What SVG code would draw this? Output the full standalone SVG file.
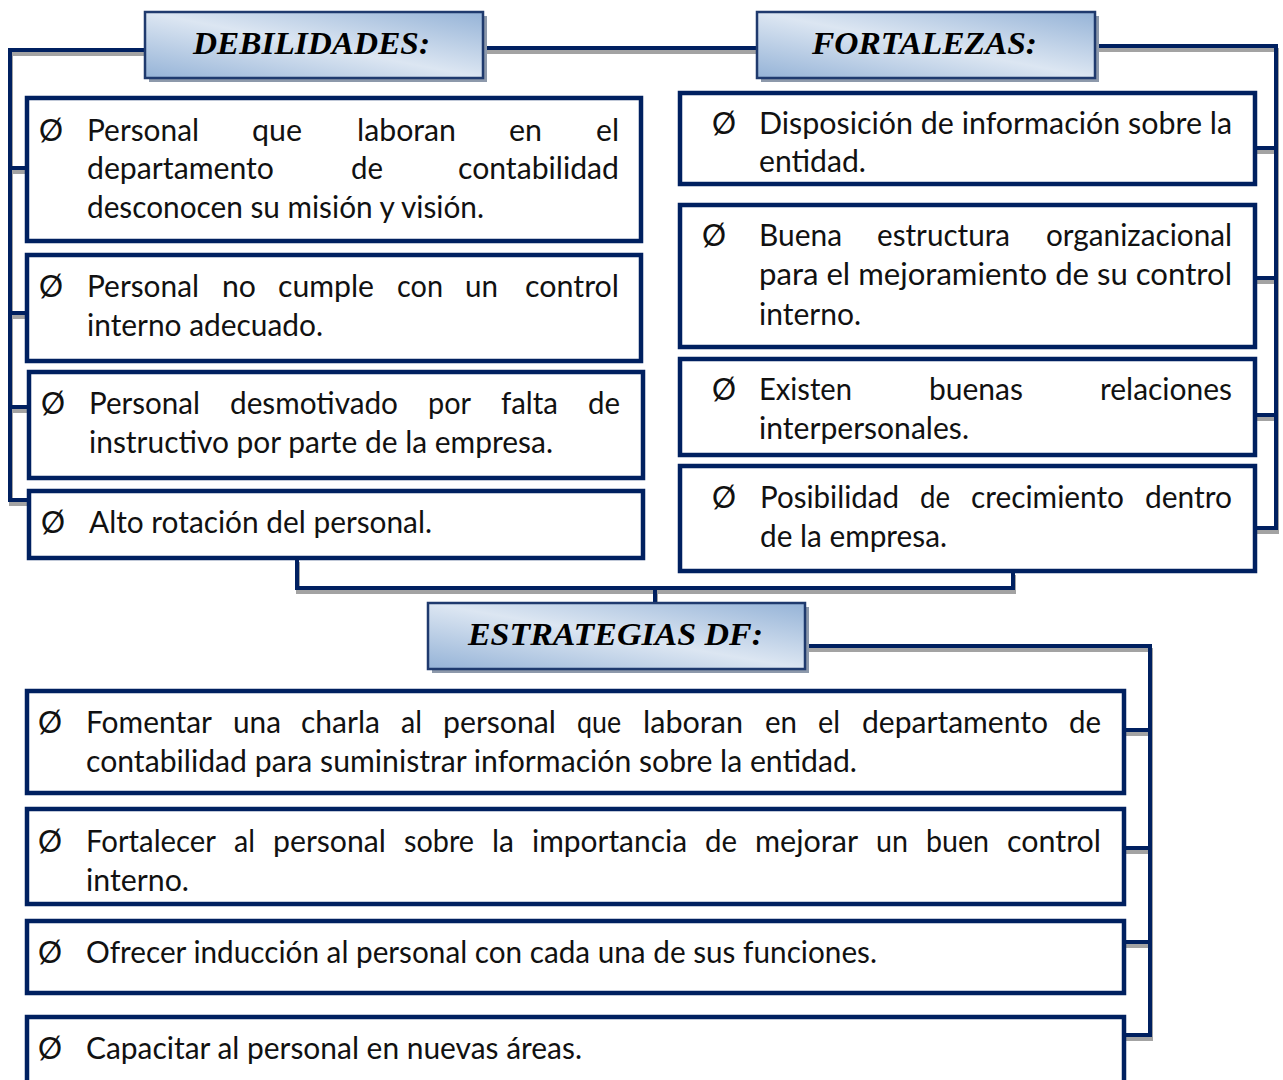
<svg xmlns="http://www.w3.org/2000/svg" width="1283" height="1080" viewBox="0 0 1283 1080">
<defs>
<linearGradient id="hg" x1="0" y1="1" x2="1" y2="0">
<stop offset="0" stop-color="#95b3d7"/>
<stop offset="0.5" stop-color="#dce6f2"/>
<stop offset="1" stop-color="#95b3d7"/>
</linearGradient>
<style>
.sh{fill:none;stroke:#a3a3a3;stroke-width:4;stroke-linejoin:miter}
.ln{fill:none;stroke:#002060;stroke-width:4;stroke-linejoin:miter}
.box{fill:#fff;stroke:#002060;stroke-width:4.5}
.hdr{fill:url(#hg);stroke:#1f3a6e;stroke-width:2.5}
.hsh{fill:#8d99ab}
.ht{font-family:"Liberation Serif",serif;font-weight:bold;font-style:italic;font-size:32px;fill:#000}
.t{font-family:Lato,"Liberation Sans",sans-serif;font-size:30px;fill:#111}
</style>
</defs>
<rect width="1283" height="1080" fill="#fff"/>

<g id="connectors">
<g class="sh" transform="translate(1,4)">
<path d="M145,50 H10 V500 H29 M10,168 H27 M10,313 H27 M10,407 H29"/>
<path d="M483,48 H757"/>
<path d="M1095,46 H1276 V528 H1255 M1255,148 H1276 M1255,278 H1276 M1255,415 H1276"/>
<path d="M297,558 V588 H1013 V571 M655,588 V603"/>
<path d="M805,646 H1150 V1035 H1124 M1124,730 H1150 M1124,848 H1150 M1124,942 H1150"/>
</g>
<g class="ln">
<path d="M145,50 H10 V500 H29 M10,168 H27 M10,313 H27 M10,407 H29"/>
<path d="M483,48 H757"/>
<path d="M1095,46 H1276 V528 H1255 M1255,148 H1276 M1255,278 H1276 M1255,415 H1276"/>
<path d="M297,558 V588 H1013 V571 M655,588 V603"/>
<path d="M805,646 H1150 V1035 H1124 M1124,730 H1150 M1124,848 H1150 M1124,942 H1150"/>
</g>
</g>

<g id="hdr-debilidades">
<rect class="hsh" x="149" y="16" width="338" height="66"/>
<rect class="hdr" x="145" y="12" width="338" height="66"/>
<text class="ht" x="193" y="54" textLength="237" lengthAdjust="spacingAndGlyphs">DEBILIDADES:</text>
</g>
<g id="hdr-fortalezas">
<rect class="hsh" x="761" y="16" width="338" height="66"/>
<rect class="hdr" x="757" y="12" width="338" height="66"/>
<text class="ht" x="812" y="54" textLength="225" lengthAdjust="spacingAndGlyphs">FORTALEZAS:</text>
</g>
<g id="hdr-estrategias">
<rect class="hsh" x="432" y="607" width="377" height="66"/>
<rect class="hdr" x="428" y="603" width="377" height="66"/>
<text class="ht" x="468" y="645" textLength="295" lengthAdjust="spacingAndGlyphs">ESTRATEGIAS DF:</text>
</g>

<g id="deb-1">
<rect class="box" x="27" y="98" width="614" height="143"/>
<text class="t" x="39" y="141">Ø</text>
<text class="t" x="87" y="141" textLength="112" lengthAdjust="spacingAndGlyphs">Personal</text>
<text class="t" x="252" y="141" textLength="50" lengthAdjust="spacingAndGlyphs">que</text>
<text class="t" x="357" y="141" textLength="99" lengthAdjust="spacingAndGlyphs">laboran</text>
<text class="t" x="509" y="141" textLength="33" lengthAdjust="spacingAndGlyphs">en</text>
<text class="t" x="596" y="141" textLength="23" lengthAdjust="spacingAndGlyphs">el</text>
<text class="t" x="87" y="179" textLength="187" lengthAdjust="spacingAndGlyphs">departamento</text>
<text class="t" x="351" y="179" textLength="32" lengthAdjust="spacingAndGlyphs">de</text>
<text class="t" x="458" y="179" textLength="161" lengthAdjust="spacingAndGlyphs">contabilidad</text>
<text class="t" x="87" y="218" textLength="397" lengthAdjust="spacingAndGlyphs">desconocen su misión y visión.</text>
</g>
<g id="deb-2">
<rect class="box" x="27" y="255" width="614" height="106"/>
<text class="t" x="39" y="297">Ø</text>
<text class="t" x="87" y="297" textLength="112" lengthAdjust="spacingAndGlyphs">Personal</text>
<text class="t" x="222" y="297" textLength="34" lengthAdjust="spacingAndGlyphs">no</text>
<text class="t" x="278" y="297" textLength="96" lengthAdjust="spacingAndGlyphs">cumple</text>
<text class="t" x="397" y="297" textLength="46" lengthAdjust="spacingAndGlyphs">con</text>
<text class="t" x="465" y="297" textLength="33" lengthAdjust="spacingAndGlyphs">un</text>
<text class="t" x="525" y="297" textLength="94" lengthAdjust="spacingAndGlyphs">control</text>
<text class="t" x="87" y="336" textLength="236" lengthAdjust="spacingAndGlyphs">interno adecuado.</text>
</g>
<g id="deb-3">
<rect class="box" x="29" y="372" width="614" height="106"/>
<text class="t" x="41" y="414">Ø</text>
<text class="t" x="89" y="414" textLength="111" lengthAdjust="spacingAndGlyphs">Personal</text>
<text class="t" x="230" y="414" textLength="168" lengthAdjust="spacingAndGlyphs">desmotivado</text>
<text class="t" x="428" y="414" textLength="43" lengthAdjust="spacingAndGlyphs">por</text>
<text class="t" x="501" y="414" textLength="57" lengthAdjust="spacingAndGlyphs">falta</text>
<text class="t" x="588" y="414" textLength="32" lengthAdjust="spacingAndGlyphs">de</text>
<text class="t" x="89" y="453" textLength="464" lengthAdjust="spacingAndGlyphs">instructivo por parte de la empresa.</text>
</g>
<g id="deb-4">
<rect class="box" x="29" y="491" width="614" height="67"/>
<text class="t" x="41" y="533">Ø</text>
<text class="t" x="89" y="533" textLength="343" lengthAdjust="spacingAndGlyphs">Alto rotación del personal.</text>
</g>

<g id="for-1">
<rect class="box" x="680" y="93" width="575" height="91"/>
<text class="t" x="712" y="134">Ø</text>
<text class="t" x="759" y="134" textLength="473" lengthAdjust="spacingAndGlyphs">Disposición de información sobre la</text>
<text class="t" x="759" y="172" textLength="107" lengthAdjust="spacingAndGlyphs">entidad.</text>
</g>
<g id="for-2">
<rect class="box" x="680" y="205" width="575" height="142"/>
<text class="t" x="702" y="246">Ø</text>
<text class="t" x="759" y="246" textLength="83" lengthAdjust="spacingAndGlyphs">Buena</text>
<text class="t" x="877" y="246" textLength="133" lengthAdjust="spacingAndGlyphs">estructura</text>
<text class="t" x="1046" y="246" textLength="186" lengthAdjust="spacingAndGlyphs">organizacional</text>
<text class="t" x="759" y="285" textLength="473" lengthAdjust="spacingAndGlyphs">para el mejoramiento de su control</text>
<text class="t" x="759" y="325" textLength="102" lengthAdjust="spacingAndGlyphs">interno.</text>
</g>
<g id="for-3">
<rect class="box" x="680" y="359" width="575" height="96"/>
<text class="t" x="712" y="400">Ø</text>
<text class="t" x="759" y="400" textLength="93" lengthAdjust="spacingAndGlyphs">Existen</text>
<text class="t" x="929" y="400" textLength="94" lengthAdjust="spacingAndGlyphs">buenas</text>
<text class="t" x="1100" y="400" textLength="132" lengthAdjust="spacingAndGlyphs">relaciones</text>
<text class="t" x="759" y="439" textLength="210" lengthAdjust="spacingAndGlyphs">interpersonales.</text>
</g>
<g id="for-4">
<rect class="box" x="680" y="466" width="575" height="105"/>
<text class="t" x="712" y="508">Ø</text>
<text class="t" x="760" y="508" textLength="139" lengthAdjust="spacingAndGlyphs">Posibilidad</text>
<text class="t" x="920" y="508" textLength="30" lengthAdjust="spacingAndGlyphs">de</text>
<text class="t" x="971" y="508" textLength="153" lengthAdjust="spacingAndGlyphs">crecimiento</text>
<text class="t" x="1145" y="508" textLength="87" lengthAdjust="spacingAndGlyphs">dentro</text>
<text class="t" x="760" y="547" textLength="187" lengthAdjust="spacingAndGlyphs">de la empresa.</text>
</g>

<g id="est-1">
<rect class="box" x="27" y="691" width="1097" height="102"/>
<text class="t" x="38" y="733">Ø</text>
<text class="t" x="86" y="733" textLength="126" lengthAdjust="spacingAndGlyphs">Fomentar</text>
<text class="t" x="233" y="733" textLength="48" lengthAdjust="spacingAndGlyphs">una</text>
<text class="t" x="301" y="733" textLength="79" lengthAdjust="spacingAndGlyphs">charla</text>
<text class="t" x="401" y="733" textLength="21" lengthAdjust="spacingAndGlyphs">al</text>
<text class="t" x="443" y="733" textLength="113" lengthAdjust="spacingAndGlyphs">personal</text>
<text class="t" x="577" y="733" textLength="44" lengthAdjust="spacingAndGlyphs">que</text>
<text class="t" x="643" y="733" textLength="100" lengthAdjust="spacingAndGlyphs">laboran</text>
<text class="t" x="765" y="733" textLength="32" lengthAdjust="spacingAndGlyphs">en</text>
<text class="t" x="818" y="733" textLength="22" lengthAdjust="spacingAndGlyphs">el</text>
<text class="t" x="862" y="733" textLength="186" lengthAdjust="spacingAndGlyphs">departamento</text>
<text class="t" x="1069" y="733" textLength="32" lengthAdjust="spacingAndGlyphs">de</text>
<text class="t" x="86" y="772" textLength="771" lengthAdjust="spacingAndGlyphs">contabilidad para suministrar información sobre la entidad.</text>
</g>
<g id="est-2">
<rect class="box" x="27" y="809" width="1097" height="95"/>
<text class="t" x="38" y="852">Ø</text>
<text class="t" x="86" y="852" textLength="130" lengthAdjust="spacingAndGlyphs">Fortalecer</text>
<text class="t" x="234" y="852" textLength="21" lengthAdjust="spacingAndGlyphs">al</text>
<text class="t" x="273" y="852" textLength="113" lengthAdjust="spacingAndGlyphs">personal</text>
<text class="t" x="404" y="852" textLength="70" lengthAdjust="spacingAndGlyphs">sobre</text>
<text class="t" x="492" y="852" textLength="22" lengthAdjust="spacingAndGlyphs">la</text>
<text class="t" x="532" y="852" textLength="155" lengthAdjust="spacingAndGlyphs">importancia</text>
<text class="t" x="705" y="852" textLength="32" lengthAdjust="spacingAndGlyphs">de</text>
<text class="t" x="755" y="852" textLength="103" lengthAdjust="spacingAndGlyphs">mejorar</text>
<text class="t" x="876" y="852" textLength="32" lengthAdjust="spacingAndGlyphs">un</text>
<text class="t" x="926" y="852" textLength="63" lengthAdjust="spacingAndGlyphs">buen</text>
<text class="t" x="1007" y="852" textLength="94" lengthAdjust="spacingAndGlyphs">control</text>
<text class="t" x="86" y="891" textLength="103" lengthAdjust="spacingAndGlyphs">interno.</text>
</g>
<g id="est-3">
<rect class="box" x="27" y="921" width="1097" height="72"/>
<text class="t" x="38" y="963">Ø</text>
<text class="t" x="86" y="963" textLength="791" lengthAdjust="spacingAndGlyphs">Ofrecer inducción al personal con cada una de sus funciones.</text>
</g>
<g id="est-4">
<rect class="box" x="27" y="1017" width="1097" height="80"/>
<text class="t" x="38" y="1059">Ø</text>
<text class="t" x="86" y="1059" textLength="496" lengthAdjust="spacingAndGlyphs">Capacitar al personal en nuevas áreas.</text>
</g>
</svg>
